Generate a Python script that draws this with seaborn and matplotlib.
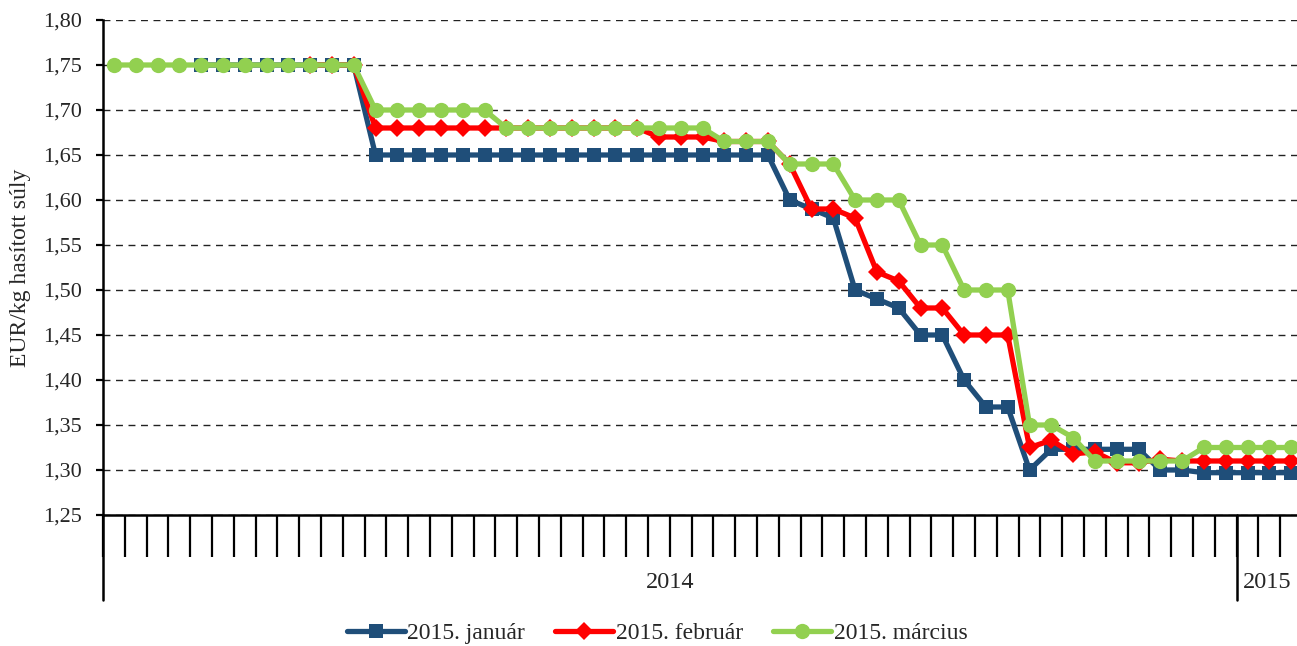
import numpy as np
import pandas as pd
import matplotlib
matplotlib.use("Agg")
import matplotlib.pyplot as plt
import matplotlib.transforms as mtrans
import seaborn as sns

nan = np.nan
series_names = ["2015. január", "2015. február", "2015. március"]

januar = ([nan] * 4 + [1.75] * 8 + [1.65] * 19 +
          [1.60, 1.59, 1.58, 1.50, 1.49, 1.48, 1.45, 1.45, 1.40, 1.37, 1.37, 1.30] +
          [1.323] * 5 + [1.30, 1.30] + [1.297] * 5)
februar = ([nan] * 9 + [1.75] * 3 + [1.68] * 13 + [1.67] * 3 + [1.665] * 3 +
           [1.64, 1.59, 1.59, 1.58, 1.52, 1.51, 1.48, 1.48, 1.45, 1.45, 1.45,
            1.325, 1.333, 1.318, 1.32, 1.308, 1.308, 1.312, 1.31,
            1.31, 1.31, 1.31, 1.31, 1.31])
marcius = ([1.75] * 12 + [1.70] * 6 + [1.68] * 10 + [1.665] * 3 + [1.64] * 3 +
           [1.60] * 3 + [1.55] * 2 + [1.50] * 3 + [1.35, 1.35, 1.336] +
           [1.31] * 5 + [1.325] * 5)

years = ["2014", "2015"]
weeks_per_year = [52, 3]

sns.set_theme(style="white")
plt.rcParams["font.family"] = ["Liberation Serif", "DejaVu Serif"]
plt.rcParams["font.size"] = 16

fig = plt.figure(figsize=(12.97, 6.46), dpi=100)
ax = fig.add_axes([103 / 1297, 1 - 515 / 646, (1297 - 103) / 1297, 495 / 646])

n = len(marcius)
idx = np.arange(n)
colors = ["#1F4E79", "#FF0000", "#92D050"]
markers = ["s", "D", "o"]
msizes = [10.5, 9.5, 11]
datas = [januar, februar, marcius]

for k, (name, vals) in enumerate(zip(series_names, datas)):
    df = pd.DataFrame({"x": idx, "y": vals}).dropna()
    sns.lineplot(data=df, x="x", y="y", ax=ax, color=colors[k], marker=markers[k],
                 markersize=msizes[k], markeredgewidth=0, linewidth=3.8,
                 label=name, zorder=3 + k)

# x ticks at category boundaries
ax.set_xticks(np.arange(-0.5, n, 1.0))
ax.set_xticklabels([])
ax.tick_params(axis="x", direction="out", length=30, width=1.6, color="black", bottom=True)
ax.tick_params(axis="y", direction="out", length=5, width=1.6, color="black", left=True, pad=10)

yt = np.arange(1.25, 1.801, 0.05)
ax.set_yticks(yt)
ax.set_yticklabels([f"{v:.2f}".replace(".", ",") for v in yt], fontsize=16)
ax.set_xlim(-0.5, -0.5 + (1297 - 103) / 21.8)
ax.set_ylim(1.25, 1.80)
ax.yaxis.grid(True, linestyle=(0, (5, 4)), color="#222222", linewidth=1.0)
ax.xaxis.grid(False)

for s in ["top", "right"]:
    ax.spines[s].set_visible(False)
for s in ["left", "bottom"]:
    ax.spines[s].set_color("black")
    ax.spines[s].set_linewidth(1.8)

# year separators and labels
trans = mtrans.blended_transform_factory(ax.transData, ax.transAxes)
depth = -85 / 495
ax.plot([-0.5, -0.5], [0, depth], color="black", lw=1.8, transform=trans, clip_on=False)
sep = weeks_per_year[0] - 0.5
ax.plot([sep, sep], [0, depth], color="black", lw=1.8, transform=trans, clip_on=False)
ax.text((weeks_per_year[0] - 1) / 2, -68 / 495, years[0], transform=trans,
        ha="center", va="center", fontsize=17.5)
ax.text(52.9, -68 / 495, years[1], transform=trans, ha="center", va="center", fontsize=17.5)

ax.set_xlabel("")
ax.set_ylabel("EUR/kg hasított súly", fontsize=17, labelpad=9)

leg = ax.legend(loc="center", ncol=3, frameon=False, handlelength=2.45,
                handletextpad=0.1, columnspacing=1.3, fontsize=17)
leg.set_bbox_to_anchor((657 / 1297, 1 - 633 / 646), transform=fig.transFigure)

fig.savefig("out.png", dpi=100)
